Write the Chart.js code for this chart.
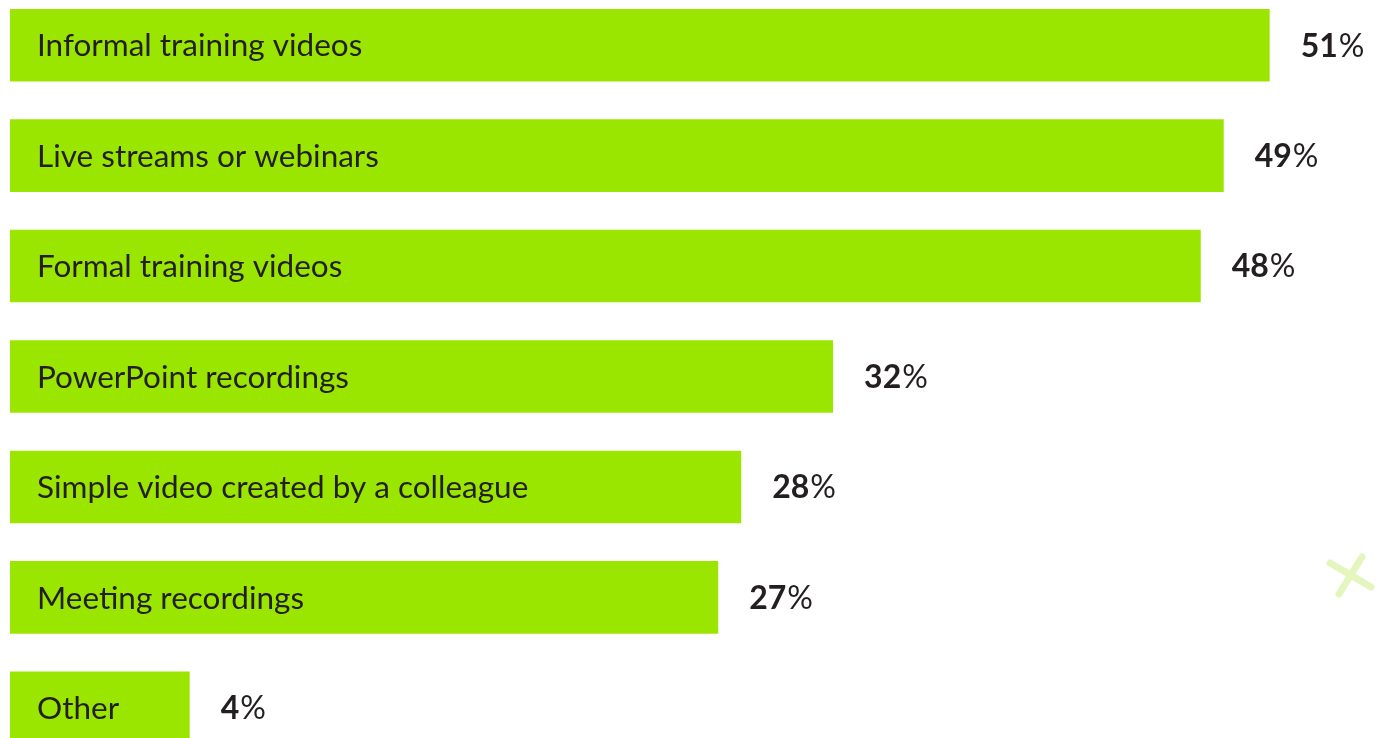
<!DOCTYPE html>
<html>
<head>
<meta charset="utf-8">
<script src="https://cdn.jsdelivr.net/npm/chart.js@4"></script>
<style>
  html, body { margin: 0; padding: 0; background: #ffffff; overflow: hidden; width: 1377px; height: 738px; }
  #wrap { position: absolute; left: 0; top: -10px; width: 1377px; height: 773px; }
</style>
</head>
<body>
<div id="wrap"><canvas id="c"></canvas></div>
<script>
const categories = [
  "Informal training videos",
  "Live streams or webinars",
  "Formal training videos",
  "PowerPoint recordings",
  "Simple video created by a colleague",
  "Meeting recordings",
  "Other"
];
const values = [51, 49, 48, 32, 28, 27, 4];
const valueSuffix = "%";

const GREEN = "#9be600";
const TEXT = "#231f20";
const FONT = "Lato, 'Open Sans', sans-serif";

const labelPlugin = {
  id: "barLabels",
  afterDatasetsDraw(chart) {
    const ctx = chart.ctx;
    const meta = chart.getDatasetMeta(0);
    ctx.save();
    ctx.textBaseline = "middle";
    meta.data.forEach((bar, i) => {
      const y = bar.y;
      // category label inside bar
      ctx.font = "400 31.5px " + FONT;
      ctx.fillStyle = TEXT;
      ctx.textAlign = "left";
      ctx.fillText(categories[i], bar.base + 27, y + 1);
      // value label
      const num = String(values[i]);
      let x = bar.x + 31;
      ctx.font = "700 32px " + FONT;
      ctx.fillText(num, x, y + 1);
      x += ctx.measureText(num).width + 1;
      ctx.font = "400 32px " + FONT;
      ctx.fillText(valueSuffix, x, y + 1);
    });
    ctx.restore();
  }
};

const decoPlugin = {
  id: "deco",
  afterDraw(chart) {
    const ctx = chart.ctx;
    const a = chart.chartArea;
    const cx = a.right - 26, cy = 585;
    ctx.save();
    ctx.strokeStyle = "#e4f6bd";
    ctx.lineWidth = 7;
    ctx.lineCap = "round";
    ctx.beginPath();
    ctx.moveTo(cx - 21, cy - 12);
    ctx.lineTo(cx + 20, cy + 12);
    ctx.moveTo(cx + 11, cy - 18);
    ctx.lineTo(cx - 12, cy + 19);
    ctx.stroke();
    ctx.restore();
  }
};

new Chart(document.getElementById("c"), {
  type: "bar",
  data: {
    labels: categories,
    datasets: [{
      data: values,
      base: -3.82,
      backgroundColor: GREEN,
      borderWidth: 0,
      categoryPercentage: 1,
      barPercentage: 0.657
    }]
  },
  options: {
    indexAxis: "y",
    responsive: true,
    maintainAspectRatio: false,
    animation: false,
    layout: { padding: { left: 10, right: 0, top: 0, bottom: 0 } },
    plugins: { legend: { display: false }, tooltip: { enabled: false } },
    scales: {
      x: { type: "linear", min: -3.82, max: 55.67, display: false },
      y: { type: "category", display: false, offset: true }
    }
  },
  plugins: [labelPlugin, decoPlugin]
});
</script>
</body>
</html>
